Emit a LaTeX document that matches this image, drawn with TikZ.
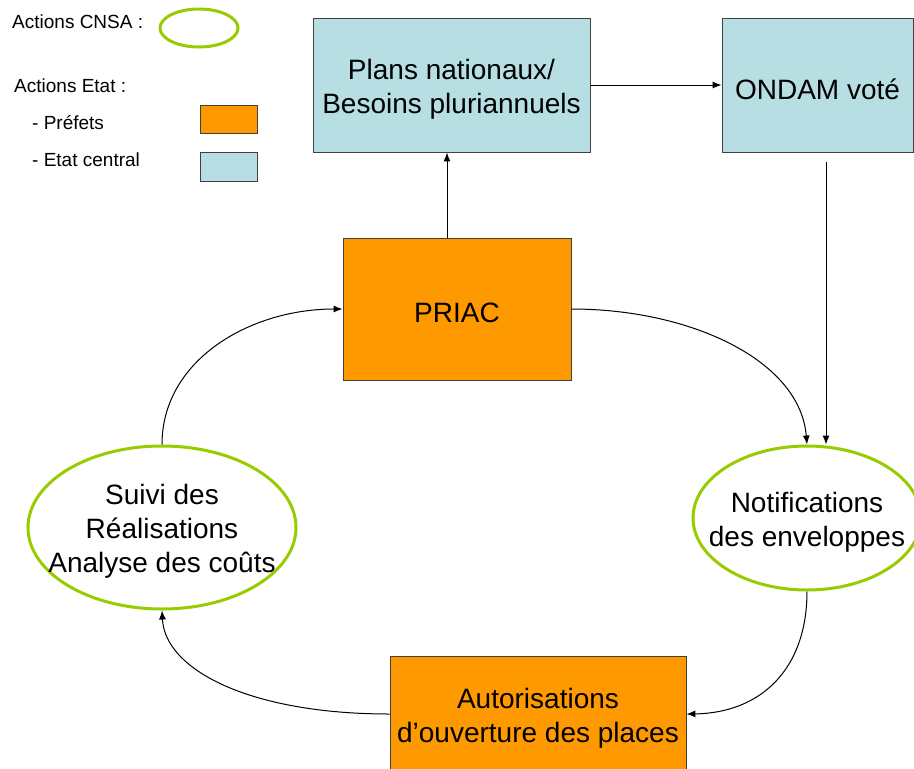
\documentclass[tikz,border=0pt]{standalone}
\usepackage{fontspec}
\setmainfont{Liberation Sans}
\usetikzlibrary{shapes.geometric,arrows.meta,calc}
\definecolor{prefetorange}{RGB}{255,153,0}
\definecolor{centralblue}{RGB}{183,222,226}
\definecolor{cnsagreen}{RGB}{153,204,0}
\tikzset{
  etatbox/.style={rectangle, draw=black!75, line width=0.9pt, inner sep=0pt},
  prefetbox/.style={etatbox, fill=prefetorange},
  centralbox/.style={etatbox, fill=centralblue},
  cnsaell/.style={ellipse, draw=cnsagreen, line width=3pt, inner sep=0pt},
  bigtext/.style={font=\fontsize{28}{34}\selectfont, align=center, yshift=-4pt},
  legendtext/.style={font=\fontsize{19}{23}\selectfont, anchor=west, inner sep=0pt},
  conn/.style={-{Latex[length=9pt,width=7pt]}, line width=1pt}
}
\begin{document}
\begin{tikzpicture}[x=1pt,y=-1pt]
\useasboundingbox (0,0) rectangle (914,769);
% legend
\node[legendtext] (lcnsa) at (12,22) {Actions CNSA :};
\node[cnsaell, minimum width=78pt, minimum height=38pt] (lell) at (199,28) {};
\node[legendtext] (letat) at (14,86) {Actions Etat :};
\node[legendtext] (lpref) at (32,123) {- Préfets};
\node[legendtext] (lcent) at (32,160) {- Etat central};
\node[prefetbox, minimum width=57pt, minimum height=28pt] (lorange) at (228.5,119) {};
\node[centralbox, minimum width=57pt, minimum height=29pt] (lblue) at (228.5,166.5) {};
% main nodes
\node[centralbox, minimum width=277pt, minimum height=134pt,
      label={[bigtext]center:{Plans nationaux/\\Besoins pluriannuels}}] (plans) at (451.5,85) {};
\node[centralbox, minimum width=191pt, minimum height=134pt,
      label={[bigtext]center:{ONDAM voté}}] (ondam) at (817.5,85) {};
\node[prefetbox, minimum width=228pt, minimum height=142pt,
      label={[bigtext]center:{PRIAC}}] (priac) at (457,309) {};
\node[prefetbox, minimum width=296pt, minimum height=116pt,
      label={[bigtext]center:{Autorisations\\d’ouverture des places}}] (autor) at (538,714) {};
\node[cnsaell, minimum width=228pt, minimum height=144pt,
      label={[bigtext]center:{Notifications\\des enveloppes}}] (notif) at (807,518) {};
\node[cnsaell, minimum width=268pt, minimum height=163pt,
      label={[bigtext]center:{Suivi des\\Réalisations\\Analyse des coûts}}] (suivi) at (162,527.5) {};
% connectors
\coordinate (ondamtop) at (826,162);
\draw[conn] (plans.east) -- (ondam.west);
\draw[conn] ([xshift=-10pt]priac.north) -- ([xshift=-10pt]priac.north |- plans.south);
\draw[conn] (ondamtop) -- (ondamtop |- notif.north);
\draw[conn] (priac.east) .. controls (690,309) and (800,360) .. (notif.north);
\draw[conn] (notif.south) .. controls (807,670) and (760,713) .. (autor.east);
\draw[conn] (autor.west) .. controls (250,714) and (165,670) .. (suivi.south);
\draw[conn] (suivi.north) .. controls (162,360) and (250,309) .. (priac.west);
\end{tikzpicture}
\end{document}
